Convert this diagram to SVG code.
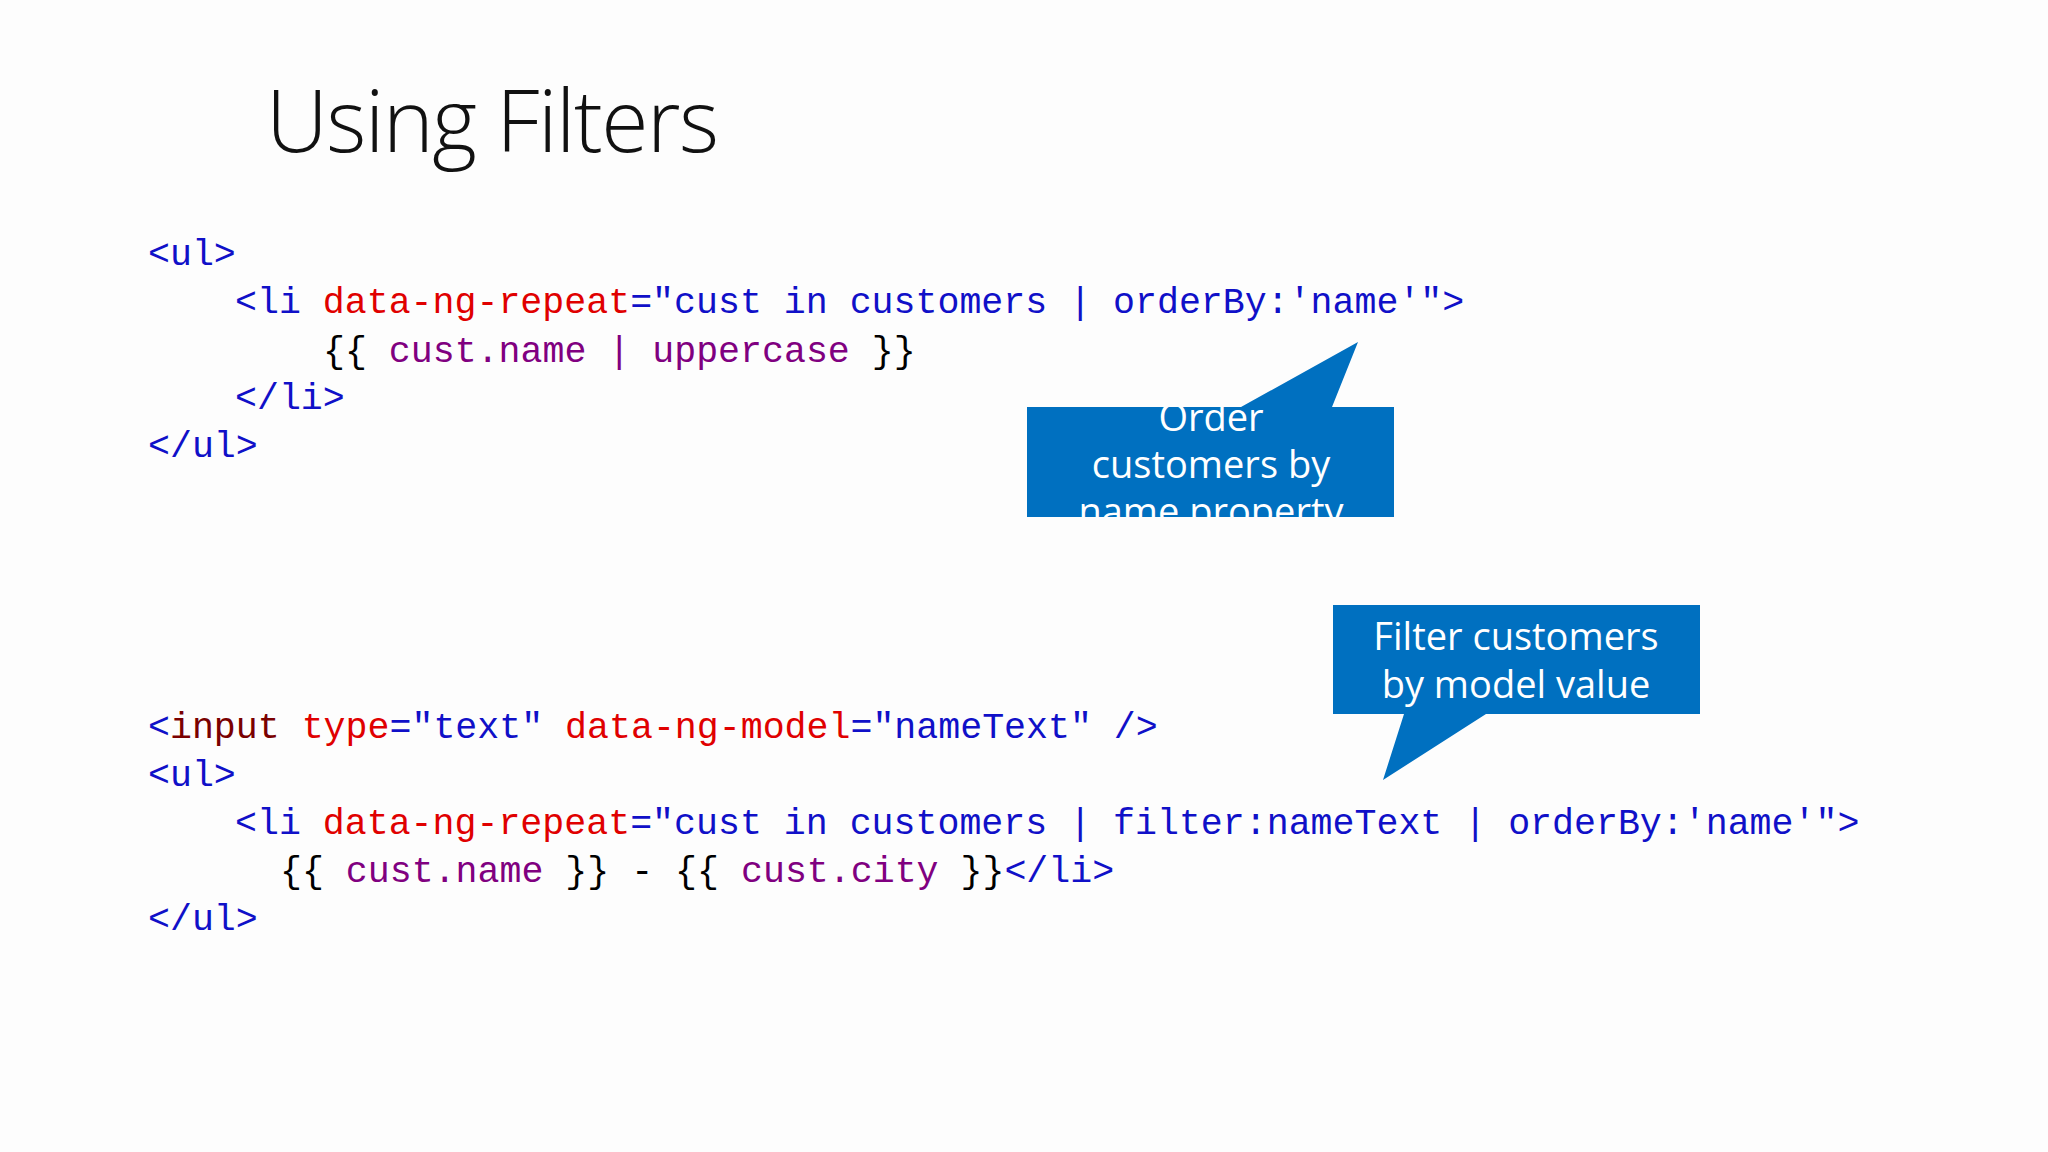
<svg xmlns="http://www.w3.org/2000/svg" width="2048" height="1152" viewBox="0 0 2048 1152">
<style>
.c{font-family:"Liberation Mono","DejaVu Sans Mono",monospace;font-size:36.6px;white-space:pre}
.t{fill:#1010c8}.a{fill:#e00000}.s{fill:#1010c8}.p{fill:#800080}.k{fill:#000}.d{fill:#7a0000}
.w{font-family:"Open Sans","Liberation Sans",sans-serif;font-size:38px;fill:#fff;text-anchor:middle}
.b{fill:#0070c0}
</style>
<defs><clipPath id="cp"><rect x="1027" y="407" width="367" height="110"/></clipPath></defs>
<rect width="2048" height="1152" fill="#fdfdfd"/>
<text x="266" y="152" font-family="Open Sans, Lato, sans-serif" font-weight="300" font-size="86" fill="#111" textLength="453">Using Filters</text>
<g id="code1" class="c">
<text x="148" y="265"><tspan class="t">&lt;ul&gt;</tspan></text>
<text x="235" y="313"><tspan class="t">&lt;li </tspan><tspan class="a">data-ng-repeat</tspan><tspan class="t">="cust in customers | orderBy:'name'"&gt;</tspan></text>
<text x="323" y="362"><tspan class="k">{{ </tspan><tspan class="p">cust.name | uppercase</tspan><tspan class="k"> }}</tspan></text>
<text x="235" y="409"><tspan class="t">&lt;/li&gt;</tspan></text>
<text x="148" y="457"><tspan class="t">&lt;/ul&gt;</tspan></text>
</g>
<g id="code2" class="c">
<text x="148" y="738"><tspan class="t">&lt;</tspan><tspan class="d">input</tspan><tspan class="a"> type</tspan><tspan class="t">="text"</tspan><tspan class="a"> data-ng-model</tspan><tspan class="t">="nameText" /&gt;</tspan></text>
<text x="148" y="786"><tspan class="t">&lt;ul&gt;</tspan></text>
<text x="235" y="834"><tspan class="t">&lt;li </tspan><tspan class="a">data-ng-repeat</tspan><tspan class="t">="cust in customers | filter:nameText | orderBy:'name'"&gt;</tspan></text>
<text x="280" y="882"><tspan class="k">{{ </tspan><tspan class="p">cust.name</tspan><tspan class="k"> }} - {{ </tspan><tspan class="p">cust.city</tspan><tspan class="k"> }}</tspan><tspan class="t">&lt;/li&gt;</tspan></text>
<text x="148" y="930"><tspan class="t">&lt;/ul&gt;</tspan></text>
</g>
<g id="callout1">
<path class="b" d="M1027 407 H1241 L1358 342 L1332 407 H1394 V517 H1027 Z"/>
<g clip-path="url(#cp)">
<text class="w" x="1211" y="431">Order</text>
<text class="w" x="1211" y="478">customers by</text>
<text class="w" x="1211" y="525">name property</text>
</g>
</g>
<g id="callout2">
<path class="b" d="M1333 605 H1700 V714 H1486 L1383 780 L1404 714 H1333 Z"/>
<text class="w" x="1516" y="650">Filter customers</text>
<text class="w" x="1516" y="698">by model value</text>
</g>
<g id="connectors"/>
</svg>
